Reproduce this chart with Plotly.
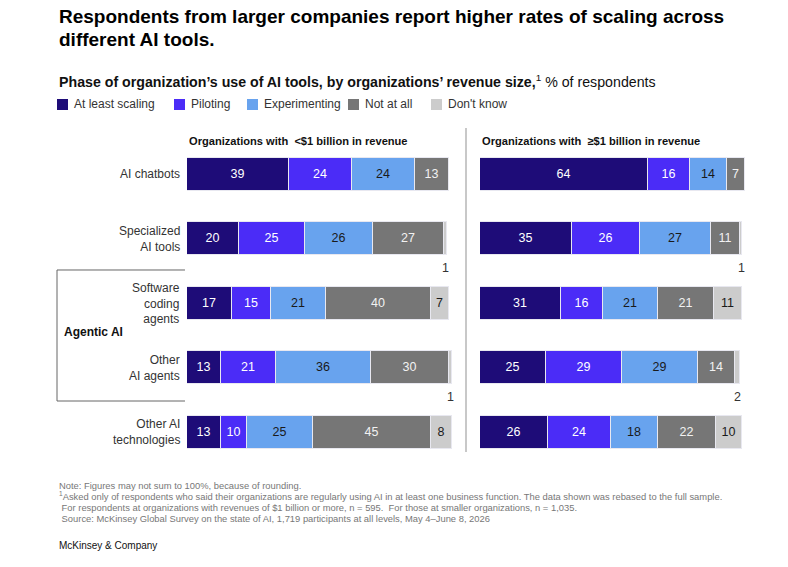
"""McKinsey chart: phase of AI tool use by organization revenue size."""
import plotly.graph_objects as go

W, H = 788, 567
# the page body adds a small margin, so positions are taken back by it
OX, OY = 8, 8

categories = [
    "AI chatbots",
    "Specialized<br>AI tools",
    "Software<br>coding<br>agents",
    "Other<br>AI agents",
    "Other AI<br>technologies",
]
phases = ["At least scaling", "Piloting", "Experimenting", "Not at all", "Don't know"]
colors = ["#1e0c78", "#4b2cf7", "#68a3ee", "#767676", "#cccccc"]
text_colors = ["#ffffff", "#ffffff", "#1a1a1a", "#f2f2f2", "#1a1a1a"]

# <$1 billion in revenue
small_scaling = [39, 20, 17, 13, 13]
small_piloting = [24, 25, 15, 21, 10]
small_experimenting = [24, 26, 21, 36, 25]
small_not_at_all = [13, 27, 40, 30, 45]
small_dont_know = [0, 1, 7, 1, 8]

# >=$1 billion in revenue
large_scaling = [64, 35, 31, 25, 26]
large_piloting = [16, 26, 16, 29, 24]
large_experimenting = [14, 27, 21, 29, 18]
large_not_at_all = [7, 11, 21, 14, 22]
large_dont_know = [0, 1, 11, 2, 10]

panel_titles = [
    "Organizations with  <$1 billion in revenue",
    "Organizations with  ≥$1 billion in revenue",
]
title_lines = [
    "Respondents from larger companies report higher rates of scaling across",
    "different AI tools.",
]

FONT = "Liberation Sans, Arial, sans-serif"


def px_x(x):
    return (x - OX) / W


def px_y(y):
    return 1 - (y - OY) / H


rows = list(range(len(categories)))
panels = [
    ("x", "y", [small_scaling, small_piloting, small_experimenting, small_not_at_all, small_dont_know]),
    ("x2", "y2", [large_scaling, large_piloting, large_experimenting, large_not_at_all, large_dont_know]),
]

fig = go.Figure()
annotations = []

for xa, ya, series in panels:
    for i, vals in enumerate(series):
        fig.add_trace(
            go.Bar(
                x=vals,
                y=rows,
                orientation="h",
                xaxis=xa,
                yaxis=ya,
                name=phases[i],
                marker=dict(color=colors[i], line=dict(color="#e8e8f0", width=1)),
                text=[str(v) if v > 2 else " " for v in vals],
                textposition="inside",
                insidetextanchor="middle",
                textfont=dict(color=text_colors[i], size=12.5, family=FONT),
                width=0.51,
                showlegend=False,
                hoverinfo="skip",
            )
        )
    # tiny "Don't know" values are written under the bar end
    for r in rows:
        total = sum(s[r] for s in series)
        dk = series[-1][r]
        if 0 < dk <= 2:
            annotations.append(dict(
                x=total - dk / 2, y=r + 0.45, xref=xa, yref=ya,
                text=str(dk), showarrow=False,
                font=dict(size=12.5, color="#333333", family=FONT),
                xanchor="center", yanchor="middle",
            ))

# category labels
for r, cat in enumerate(categories):
    annotations.append(dict(
        x=px_x(182), y=r, xref="paper", yref="y",
        text=cat, showarrow=False, align="right",
        font=dict(size=12, color="#333333", family=FONT),
        xanchor="right", yanchor="middle",
    ))

# panel headers
for xpos, t in zip([187, 480], panel_titles):
    annotations.append(dict(
        x=px_x(xpos), y=px_y(141), xref="paper", yref="paper",
        text="<b>%s</b>" % t, showarrow=False,
        font=dict(size=11.1, color="#111111", family=FONT),
        xanchor="left", yanchor="middle",
    ))

# title (two lines) and subtitle
for ty, line in zip([17, 39], title_lines):
    annotations.append(dict(
        x=px_x(57), y=px_y(ty), xref="paper", yref="paper",
        text="<b>%s</b>" % line,
        showarrow=False, align="left",
        font=dict(size=19, color="#000000", family=FONT),
        xanchor="left", yanchor="middle",
    ))
annotations.append(dict(
    x=px_x(57), y=px_y(81), xref="paper", yref="paper",
    text="<b>Phase of organization’s use of AI tools, by organizations’ revenue size,</b><sup>1</sup> % of respondents",
    showarrow=False, align="left",
    font=dict(size=14.2, color="#111111", family=FONT),
    xanchor="left", yanchor="middle",
))

# legend
shapes = []
legend_x = [57, 174, 247, 348, 431]
for lx, name, c in zip(legend_x, phases, colors):
    shapes.append(dict(
        type="rect", xref="paper", yref="paper",
        x0=px_x(lx), x1=px_x(lx + 11), y0=px_y(110), y1=px_y(99),
        fillcolor=c, line=dict(width=0),
    ))
    annotations.append(dict(
        x=px_x(lx + 15), y=px_y(104.5), xref="paper", yref="paper",
        text=name, showarrow=False,
        font=dict(size=12, color="#333333", family=FONT),
        xanchor="left", yanchor="middle",
    ))

# divider between panels
shapes.append(dict(
    type="line", xref="paper", yref="paper",
    x0=px_x(466), x1=px_x(466), y0=px_y(128), y1=px_y(452),
    line=dict(color="#c8c8c8", width=2),
))

# Agentic AI bracket
shapes.append(dict(
    type="path", xref="paper", yref="paper",
    path="M %f %f L %f %f L %f %f L %f %f" % (
        px_x(185), px_y(270), px_x(57), px_y(270),
        px_x(57), px_y(401), px_x(185), px_y(401)),
    line=dict(color="#666666", width=1),
))
annotations.append(dict(
    x=px_x(62), y=px_y(332), xref="paper", yref="paper",
    text="<b>Agentic AI</b>", showarrow=False,
    font=dict(size=12, color="#111111", family=FONT),
    xanchor="left", yanchor="middle",
))

# footnotes
notes = [
    "Note: Figures may not sum to 100%, because of rounding.",
    "<sup>1</sup>Asked only of respondents who said their organizations are regularly using AI in at least one business function. The data shown was rebased to the full sample.",
    " For respondents at organizations with revenues of $1 billion or more, n = 595.  For those at smaller organizations, n = 1,035.",
    " Source: McKinsey Global Survey on the state of AI, 1,719 participants at all levels, May 4–June 8, 2026",
]
for i, note in enumerate(notes):
    annotations.append(dict(
        x=px_x(57), y=px_y(485 + i * 11.3), xref="paper", yref="paper",
        text=note, showarrow=False,
        font=dict(size=9.4, color="#777777", family=FONT),
        xanchor="left", yanchor="middle",
    ))
annotations.append(dict(
    x=px_x(57), y=px_y(545), xref="paper", yref="paper",
    text="McKinsey & Company", showarrow=False,
    font=dict(size=10, color="#111111", family=FONT),
    xanchor="left", yanchor="middle",
))

axis_x = dict(range=[0, 101], visible=False, fixedrange=True)
axis_y = dict(range=[4.5, -0.5], visible=False, fixedrange=True,
              domain=[px_y(464.25), px_y(141.75)])

fig.update_layout(
    width=W, height=H,
    margin=dict(l=0, r=0, t=0, b=0),
    paper_bgcolor="white", plot_bgcolor="white",
    barmode="stack", bargap=0,
    xaxis=dict(axis_x, domain=[px_x(187), px_x(452)]),
    xaxis2=dict(axis_x, domain=[px_x(480), px_x(745)]),
    yaxis=dict(axis_y, anchor="x"),
    yaxis2=dict(axis_y, anchor="x2"),
    uniformtext=dict(minsize=9, mode="show"),
    annotations=annotations,
    shapes=shapes,
    font=dict(family=FONT),
)

fig.write_html("out.html")
